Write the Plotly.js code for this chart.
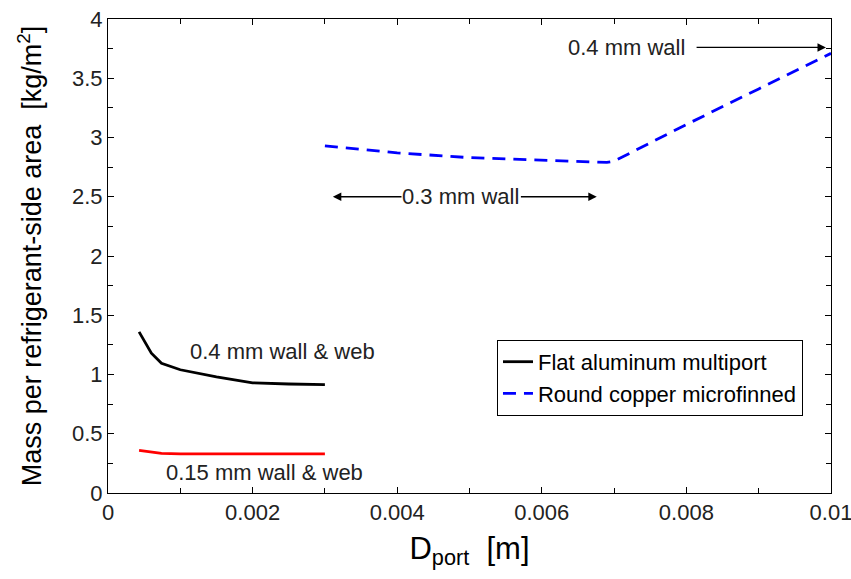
<!DOCTYPE html>
<html><head><meta charset="utf-8">
<script src="https://cdn.plot.ly/plotly-3.0.1.min.js"></script>
<style>body{margin:0;background:#fff}#c{width:851px;height:579px}</style>
</head><body><div id="c"></div>
<script>
var alX = [0.00043, 0.0006, 0.00074, 0.001, 0.0015, 0.002, 0.0025, 0.003];
var alThick = [1.36, 1.18, 1.095, 1.04, 0.98, 0.93, 0.92, 0.915];
var alThin  = [0.36, 0.345, 0.335, 0.33, 0.33, 0.33, 0.33, 0.33];
var cuX = [0.003, 0.0035, 0.004, 0.005, 0.006, 0.0069, 0.007, 0.008, 0.009, 0.01];
var cuY = [2.93, 2.90, 2.87, 2.83, 2.81, 2.79, 2.80, 3.11, 3.41, 3.71];
var xTickVals = [0, 0.002, 0.004, 0.006, 0.008, 0.01];
var xTickText = ['0', '0.002', '0.004', '0.006', '0.008', '0.01'];

var FONT = 'Liberation Sans, Arial, sans-serif';
var traces = [
  {x: alX, y: alThick, mode: 'lines', line: {color: '#000', width: 2.8}, name: 'Flat aluminum multiport'},
  {x: alX, y: alThin, mode: 'lines', line: {color: '#ff0000', width: 2.8}, showlegend: false},
  {x: cuX, y: cuY, mode: 'lines', line: {color: '#0000ff', width: 2.8, dash: '13px,8px'}, name: 'Round copper microfinned'}
];
var tf = {family: FONT, size: 22, color: '#222'};
var af = {family: FONT, size: 22, color: '#222'};
function arrow(x, y, ax) {
  return {x: x, y: y, ax: ax, ay: y, xref: 'x', yref: 'y', axref: 'x', ayref: 'y',
          text: '', showarrow: true, arrowhead: 2, arrowsize: 1.3, arrowwidth: 1.3, arrowcolor: '#000'};
}
var layout = {
  width: 851, height: 579,
  margin: {l: 108, r: 20, t: 19, b: 86},
  paper_bgcolor: '#fff', plot_bgcolor: '#fff',
  showlegend: true,
  legend: {x: 0.538, y: 0.323, xanchor: 'left', yanchor: 'top', bordercolor: '#000', borderwidth: 1,
           font: {family: FONT, size: 22, color: '#000'},
           bgcolor: '#fff', tracegroupgap: 0, itemwidth: 30},
  xaxis: {range: [0, 0.01], tickmode: 'array', tickvals: xTickVals, ticktext: xTickText,
          ticks: 'inside', ticklen: 6, tickcolor: '#000', ticklabeloverflow: 'allow',
          showline: true, linecolor: '#000', linewidth: 1, mirror: 'ticks', showgrid: false, zeroline: false,
          tickfont: tf, minor: {dtick: 0.001, ticks: 'inside', ticklen: 5, tickcolor: '#000', showgrid: false},
          title: {text: 'D<sub>port</sub>  [m]', font: {family: FONT, size: 31, color: '#000'}, standoff: 12}},
  yaxis: {range: [0, 4], dtick: 0.5, ticks: 'inside', ticklen: 6, tickcolor: '#000', ticklabeloverflow: 'allow',
          showline: true, linecolor: '#000', linewidth: 1, mirror: 'ticks', showgrid: false, zeroline: false,
          tickfont: tf, minor: {dtick: 0.25, ticks: 'inside', ticklen: 5, tickcolor: '#000', showgrid: false},
          title: {text: 'Mass per refrigerant-side area  [kg/m<sup>2</sup>]', font: {family: FONT, size: 27, color: '#000'}, standoff: 22}},
  annotations: [
    {x: 0.00241, y: 1.19, xref: 'x', yref: 'y', text: '0.4 mm wall &amp; web', showarrow: false, font: af},
    {x: 0.00216, y: 0.17, xref: 'x', yref: 'y', text: '0.15 mm wall &amp; web', showarrow: false, font: af},
    {x: 0.00488, y: 2.5, xref: 'x', yref: 'y', text: '0.3 mm wall', showarrow: false, font: af},
    arrow(0.00311, 2.5, 0.00408),
    arrow(0.00676, 2.5, 0.00569),
    {x: 0.00717, y: 3.76, xref: 'x', yref: 'y', text: '0.4 mm wall', showarrow: false, font: af},
    arrow(0.00993, 3.76, 0.00812)
  ]
};
Plotly.newPlot('c', traces, layout, {displayModeBar: false, staticPlot: true});
</script></body></html>
